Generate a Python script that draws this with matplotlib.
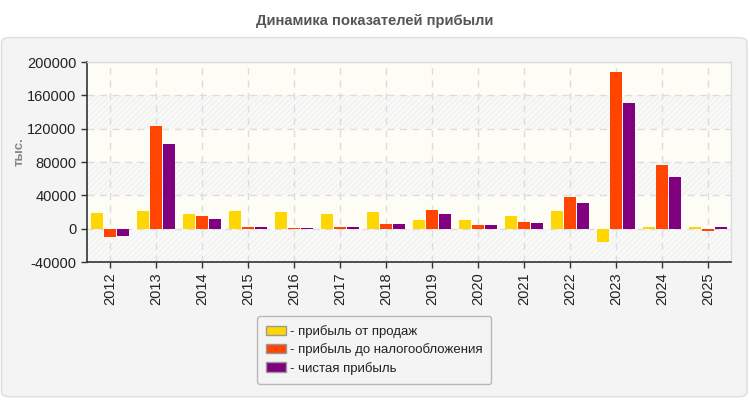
import matplotlib
matplotlib.use("Agg")
import matplotlib.pyplot as plt
from matplotlib.patches import FancyBboxPatch, Patch
import numpy as np

plt.rcParams['font.family'] = ['Liberation Sans', 'DejaVu Sans']
plt.rcParams['hatch.linewidth'] = 0.8

years = ['2012', '2013', '2014', '2015', '2016', '2017', '2018',
         '2019', '2020', '2021', '2022', '2023', '2024', '2025']
sales_profit = [19200, 21600, 18000, 21200, 20000, 18000, 19600,
                10800, 10800, 14800, 20800, -15600, 1600, 1600]
pretax_profit = [-10000, 123200, 15600, 1600, 800, 2400, 5200,
                 22800, 4000, 7600, 37600, 187600, 76000, -2400]
net_profit = [-8800, 101600, 11600, 1500, 800, 2400, 5200,
              18000, 4000, 6400, 30400, 150400, 61600, 1600]

series_labels = ['- прибыль от продаж', '- прибыль до налогообложения', '- чистая прибыль']
colors = ['#ffd700', '#ff4500', '#800080']
yticks = [-40000, 0, 40000, 80000, 120000, 160000, 200000]

fig = plt.figure(figsize=(7.5, 4), dpi=100)
fig.patch.set_facecolor('white')

# grey rounded panel behind the chart
panel = FancyBboxPatch((0.002, 0.008), 0.994, 0.898,
                       boxstyle="round,pad=0,rounding_size=0.012",
                       transform=fig.transFigure, facecolor='#f4f4f4',
                       edgecolor='#dddddd', linewidth=1, zorder=-10)
fig.patches.append(panel)

fig.text(0.5, 0.948, 'Динамика показателей прибыли', ha='center', va='center',
         fontsize=10.6, fontweight='bold', color='#555555')

ax = fig.add_axes([0.116, 0.345, 0.859, 0.5])
ax.set_zorder(1)
ax.set_facecolor('#fdfdf5')

# alternating bands, hatched ones every other step
for i in range(len(yticks) - 1):
    lo, hi = yticks[i], yticks[i + 1]
    if i % 2 == 0:
        ax.axhspan(lo, hi, facecolor='#f9f9f7', edgecolor='#f0f0f0',
                   hatch='//////', linewidth=0, zorder=0)
    else:
        ax.axhspan(lo, hi, facecolor='#fdfdf5', linewidth=0, zorder=0)

x = np.arange(len(years))
w = 12 / 46
off = 13 / 46
for k, vals in enumerate([sales_profit, pretax_profit, net_profit]):
    ax.bar(x + (k - 1) * off, vals, width=w, color=colors[k], zorder=3)

ax.set_xlim(-0.5, len(years) - 0.5)
ax.set_ylim(-40000, 200000)
ax.set_yticks(yticks)
ax.set_yticklabels([str(v) for v in yticks], fontsize=10.5, color='#222222')
ax.set_xticks(x)
ax.set_xticklabels(years, rotation=90, fontsize=10.5, color='#222222')
ax.tick_params(axis='both', length=4, color='#333333', width=1)

ax.grid(True, linestyle=(0, (5, 4)), color='#dddddd', linewidth=1, zorder=1)
ax.set_axisbelow(True)

for s in ['left', 'bottom']:
    ax.spines[s].set_color('#333333')
    ax.spines[s].set_linewidth(1.2)
for s in ['top', 'right']:
    ax.spines[s].set_color('#dddddd')
    ax.spines[s].set_linewidth(1)

fig.text(0.026, 0.622, 'тыс.', rotation=90, ha='center', va='center',
         fontsize=9.5, fontweight='bold', color='#888888')

handles = [Patch(facecolor=c, edgecolor='#999999', linewidth=1) for c in colors]
leg = fig.legend(handles, series_labels, loc='upper left',
                 bbox_to_anchor=(0.343, 0.21), borderaxespad=0, fontsize=9.5,
                 frameon=True, fancybox=True, handlelength=1.5, handleheight=0.7,
                 handletextpad=0.25, labelspacing=0.4, borderpad=0.7,
                 edgecolor='#aaaaaa', facecolor='#f4f4f4')
leg.get_frame().set_linewidth(1)
for t in leg.get_texts():
    t.set_color('#222222')

fig.savefig('out.png', dpi=100, facecolor=fig.get_facecolor())
